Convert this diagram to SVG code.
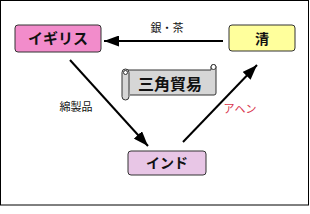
<svg xmlns="http://www.w3.org/2000/svg" width="310" height="214" viewBox="0 0 310 214">
<style>
.node{stroke:#333;stroke-width:1}
.lbl{font-family:"Noto Sans CJK JP","Noto Sans",sans-serif;font-weight:bold;text-anchor:middle;fill:#111}
.edge{stroke:#000;stroke-width:2;fill:none;marker-end:url(#ah)}
.el{font-family:"Noto Sans CJK JP","Noto Sans",sans-serif;font-size:11px;text-anchor:middle;fill:#111}
</style>
<defs>
<marker id="ah" markerUnits="userSpaceOnUse" markerWidth="15" markerHeight="11" refX="15" refY="5.5" orient="auto">
<path d="M0,0 L15,5.5 L0,11 z" fill="#000"/>
</marker>
</defs>
<rect x="0.5" y="0.5" width="308" height="204.5" fill="#fff" stroke="#000" stroke-width="1"/>
<g id="connectors">
<line class="edge" x1="223" y1="41" x2="104" y2="41"/>
<line class="edge" x1="70" y1="60" x2="148" y2="146"/>
<line class="edge" x1="183" y1="142" x2="257" y2="65"/>
<text class="el" x="167" y="32">銀・茶</text>
<text class="el" x="76" y="111" font-size="12">綿製品</text>
<text class="el" x="240" y="113" style="fill:#d8324a">アヘン</text>
</g>
<g id="igirisu">
<rect class="node" x="15" y="25" width="86" height="27" rx="3" fill="#f28ccb"/>
<text class="lbl" x="58" y="44" font-size="15">イギリス</text>
</g>
<g id="shin">
<rect class="node" x="229" y="25" width="66" height="26" rx="3" fill="#ffff9c"/>
<text class="lbl" x="262" y="44" font-size="14">清</text>
</g>
<g id="india">
<rect class="node" x="128" y="151" width="78" height="24" rx="3" fill="#e8c6e6"/>
<text class="lbl" x="167" y="168" font-size="14">インド</text>
</g>
<g id="sankaku">
<path d="M126,70 H211 V67 A2.5,2.5 0 0 1 216,67 V93 Q216,95 214,95 H130" fill="#d6d6d6" stroke="#333" stroke-width="1"/>
<circle cx="213.5" cy="67" r="2.5" fill="#fff" stroke="#333" stroke-width="1"/>
<rect x="122" y="69" width="7" height="31" rx="3.5" fill="#d6d6d6" stroke="#333" stroke-width="1"/>
<circle cx="125.5" cy="72.5" r="2" fill="#fff" stroke="#333" stroke-width="1"/>
<text class="lbl" x="170" y="90" font-size="16">三角貿易</text>
</g>
</svg>
